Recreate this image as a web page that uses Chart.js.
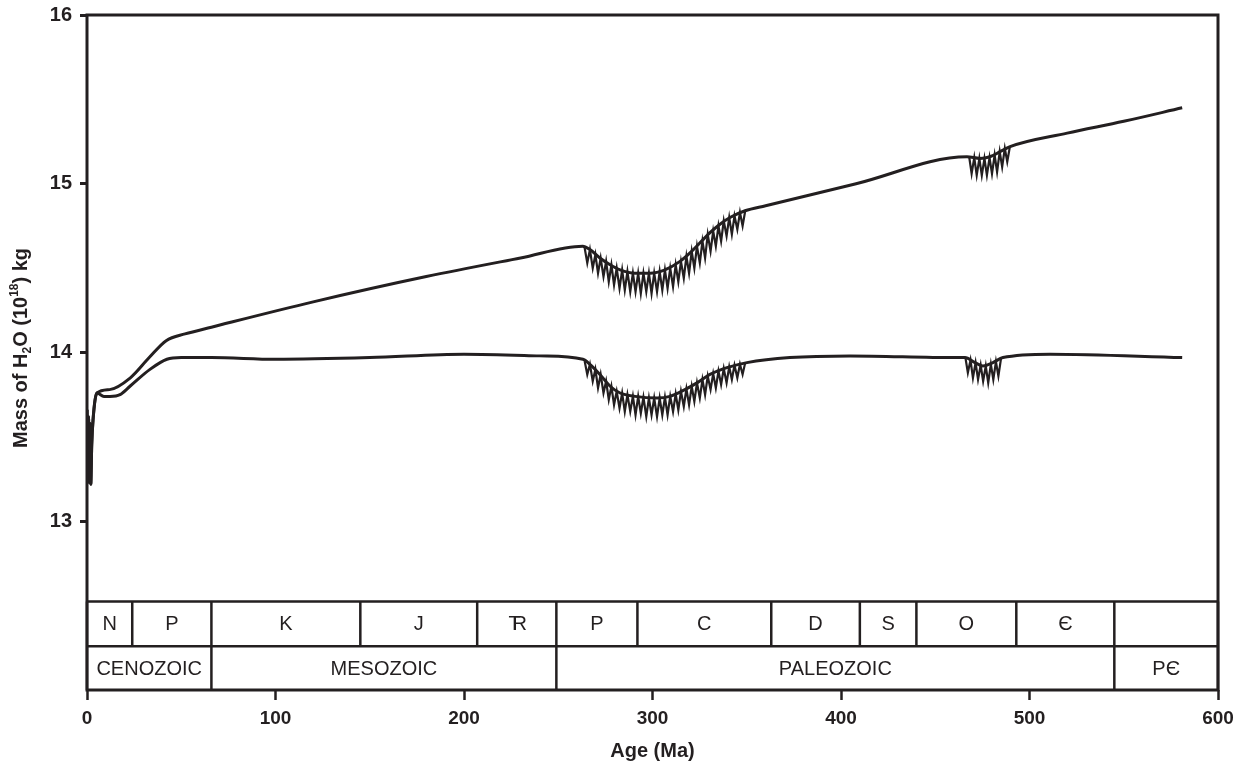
<!DOCTYPE html>
<html>
<head>
<meta charset="utf-8">
<title>Mass of H2O through time</title>
<script src="https://cdn.jsdelivr.net/npm/chart.js@4.4.1/dist/chart.umd.min.js"></script>
<style>
  html, body { margin: 0; padding: 0; background: #fff; }
  #wrap { width: 1243px; height: 764px; }
</style>
</head>
<body>
<div id="wrap"><canvas id="chart" width="1243" height="764"></canvas></div>
<script>
// ages in Ma, masses in 10^18 kg
const upperAges = [0, 0.4, 0.8, 1.2, 1.6, 2.0, 2.5, 3.2, 5.3, 12, 23, 33, 42, 52, 66, 120, 180, 230, 263,
  266.8, 272.1, 277.5, 282.8, 290.7, 298.7, 306.6, 314.6, 319.9, 325.2, 330.5, 335.8, 341.1, 349.1,
  360, 408, 466.8, 473.7, 479, 484.4, 489.7, 520, 550, 581];
const upperMass = [13.66, 13.25, 13.62, 13.23, 13.58, 13.22, 13.45, 13.6, 13.76, 13.78, 13.85, 13.97, 14.07, 14.11, 14.15, 14.30, 14.45, 14.56, 14.63,
  14.61, 14.56, 14.52, 14.49, 14.47, 14.47, 14.49, 14.54, 14.59, 14.65, 14.71, 14.76, 14.80, 14.84,
  14.87, 15.00, 15.16, 15.15, 15.16, 15.19, 15.22, 15.30, 15.37, 15.45];

const lowerAges = [0, 0.4, 0.8, 1.2, 1.6, 2.0, 2.5, 3.2, 5.3, 9, 12.2, 17.5, 22.8, 33.4, 42.4, 50, 66, 100, 150, 200, 240,
  263.1, 266.8, 272.1, 277.5, 282.8, 290.7, 302.4, 309.3, 317.2, 323.6, 330.5, 339.5, 350.1,
  372.9, 404.8, 460.5, 465.8, 471.1, 475.3, 480.6, 485.9, 510.9, 581];
const lowerMass = [13.66, 13.25, 13.62, 13.23, 13.58, 13.22, 13.45, 13.6, 13.76, 13.74, 13.74, 13.75, 13.80, 13.90, 13.96, 13.97, 13.97, 13.96, 13.97, 13.99, 13.98,
  13.96, 13.93, 13.87, 13.80, 13.76, 13.74, 13.73, 13.74, 13.78, 13.82, 13.87, 13.91, 13.94,
  13.97, 13.98, 13.97, 13.97, 13.94, 13.92, 13.94, 13.97, 13.99, 13.97];

// Permo-Carboniferous glacial cycles (alternating crest / trough)
const permoCarbAges = [264, 265.4, 266.8, 268.3, 269.7, 271.1, 272.5, 274.0, 275.4, 276.8, 278.2, 279.6,
  281.0, 282.5, 283.9, 285.3, 286.7, 288.2, 289.6, 291.0, 292.4, 293.8, 295.2, 296.7, 298.1, 299.5,
  300.9, 302.4, 303.8, 305.2, 306.6, 308.0, 309.4, 310.9, 312.3, 313.7, 315.1, 316.6, 318.0, 319.4,
  320.8, 322.2, 323.6, 325.1, 326.5, 327.9, 329.3, 330.8, 332.2, 333.6, 335.0, 336.4, 337.8, 339.3,
  340.7, 342.1, 343.5, 345.0, 346.4, 347.8, 349.2];
const permoCarbUpper = [14.62, 14.53, 14.61, 14.50, 14.58, 14.47, 14.56, 14.45, 14.54, 14.42, 14.52, 14.40,
  14.50, 14.38, 14.49, 14.37, 14.48, 14.36, 14.47, 14.36, 14.47, 14.35, 14.47, 14.36, 14.47, 14.35,
  14.47, 14.36, 14.48, 14.37, 14.49, 14.38, 14.50, 14.39, 14.52, 14.42, 14.54, 14.44, 14.57, 14.47,
  14.60, 14.50, 14.63, 14.53, 14.66, 14.56, 14.70, 14.60, 14.72, 14.63, 14.75, 14.66, 14.78, 14.69,
  14.80, 14.70, 14.81, 14.73, 14.83, 14.75, 14.84];
const permoCarbLower = [13.95, 13.87, 13.93, 13.83, 13.90, 13.79, 13.87, 13.76, 13.83, 13.72, 13.80, 13.69,
  13.77, 13.67, 13.76, 13.65, 13.75, 13.65, 13.74, 13.63, 13.74, 13.64, 13.735, 13.62, 13.73, 13.63,
  13.73, 13.62, 13.73, 13.63, 13.735, 13.63, 13.74, 13.65, 13.755, 13.66, 13.77, 13.68, 13.785, 13.69,
  13.80, 13.71, 13.82, 13.73, 13.84, 13.75, 13.86, 13.78, 13.875, 13.79, 13.89, 13.81, 13.905, 13.82,
  13.915, 13.84, 13.925, 13.85, 13.93, 13.87, 13.94];

// Ordovician glacial cycles
const ordUpperAges = [468.0, 469.3, 470.7, 472.0, 473.4, 474.7, 476.1, 477.4, 478.8, 480.1, 481.5, 482.8, 484.2, 485.5, 486.9, 488.2, 489.6];
const ordUpperMass = [15.16, 15.06, 15.155, 15.05, 15.15, 15.05, 15.15, 15.05, 15.155, 15.06, 15.17, 15.07, 15.19, 15.10, 15.21, 15.13, 15.22];
const ordLowerAges = [466.0, 467.3, 468.7, 470.0, 471.4, 472.7, 474.1, 475.4, 476.8, 478.1, 479.5, 480.8, 482.2, 483.5, 484.9];
const ordLowerMass = [13.97, 13.88, 13.955, 13.85, 13.94, 13.84, 13.925, 13.83, 13.92, 13.82, 13.93, 13.84, 13.945, 13.86, 13.965];

// geologic time scale
const periodBounds = [0, 24, 66, 145, 207, 249, 292, 363, 410, 440, 493, 545, 600];
const periodLabels = ["N", "P", "K", "J", "TR", "P", "C", "D", "S", "O", "\u0404", ""];
const eraBounds = [0, 66, 249, 545, 600];
const eraLabels = ["CENOZOIC", "MESOZOIC", "PALEOZOIC", "P\u0404"];

const xTickValues = [0, 100, 200, 300, 400, 500, 600];
const yTickValues = [13, 14, 15, 16];

const INK = "#231f20";

function points(ages, vals) {
    return ages.map((a, i) => ({ x: a, y: vals[i] }));
}

function curve(ages, vals) {
    return {
        data: points(ages, vals),
        borderColor: INK,
        borderWidth: 3,
        pointRadius: 0,
        cubicInterpolationMode: "monotone",
        borderJoinStyle: "round"
    };
}

function cycles(ages, vals) {
    return {
        data: points(ages, vals),
        borderColor: INK,
        borderWidth: 2.2,
        pointRadius: 0,
        tension: 0
    };
}

function drawYTitle(ctx) {
    // H2O with subscript, 10^18 with superscript
    let parts = [["Mass of H", 0], ["2", 1], ["O (10", 0], ["18", -1], [") kg", 0]];
    ctx.save();
    ctx.translate(27, 448);
    ctx.rotate(-Math.PI / 2);
    ctx.fillStyle = INK;
    ctx.textBaseline = "alphabetic";
    ctx.textAlign = "left";
    let x = 0;
    for (let [text, shift] of parts) {
        ctx.font = shift ? "bold 12px 'Liberation Sans'" : "bold 20px 'Liberation Sans'";
        let dy = shift === 1 ? 4 : (shift === -1 ? -9 : 0);
        ctx.fillText(text, x, dy);
        x += ctx.measureText(text).width;
    }
    ctx.restore();
}

function drawLabel(ctx, label, cx, cy) {
    if (label === "TR") {
        // Triassic symbol: T laid over the stem of R
        let w = ctx.measureText("R").width;
        ctx.fillText("R", cx + 3, cy);
        ctx.fillText("T", cx + 3 - w / 2 + 2, cy);
    } else {
        ctx.fillText(label, cx, cy);
    }
}

const timeScalePlugin = {
    id: "timeScale",
    afterDraw(chart) {
        let ctx = chart.ctx;
        let xs = chart.scales.x;
        let ys = chart.scales.y;
        let area = chart.chartArea;
        let rowTop = ys.getPixelForValue(12.525);
        let rowMid = ys.getPixelForValue(12.26);
        let rowBot = ys.getPixelForValue(12);

        ctx.save();
        ctx.strokeStyle = INK;
        ctx.lineWidth = 2.5;
        ctx.beginPath();
        ctx.moveTo(area.left, rowTop);
        ctx.lineTo(area.right, rowTop);
        ctx.moveTo(area.left, rowMid);
        ctx.lineTo(area.right, rowMid);
        for (let b of periodBounds) {
            let px = xs.getPixelForValue(b);
            ctx.moveTo(px, rowTop);
            ctx.lineTo(px, rowMid);
        }
        for (let b of eraBounds) {
            let px = xs.getPixelForValue(b);
            ctx.moveTo(px, rowMid);
            ctx.lineTo(px, rowBot);
        }
        ctx.stroke();

        ctx.fillStyle = INK;
        ctx.font = "20px 'Liberation Sans'";
        ctx.textAlign = "center";
        ctx.textBaseline = "middle";
        for (let i = 0; i < periodLabels.length; i++) {
            let cx = (xs.getPixelForValue(periodBounds[i]) + xs.getPixelForValue(periodBounds[i + 1])) / 2;
            drawLabel(ctx, periodLabels[i], cx, (rowTop + rowMid) / 2 + 1);
        }
        for (let i = 0; i < eraLabels.length; i++) {
            let cx = (xs.getPixelForValue(eraBounds[i]) + xs.getPixelForValue(eraBounds[i + 1])) / 2;
            ctx.fillText(eraLabels[i], cx, (rowMid + rowBot) / 2 + 1);
        }

        // frame round the plot
        ctx.lineWidth = 3;
        ctx.strokeRect(area.left, area.top, area.right - area.left, area.bottom - area.top);
        ctx.restore();

        drawYTitle(ctx);
    }
};

function makeChart() {

    let canvas = document.getElementById("chart");
    new Chart(canvas.getContext("2d"), {
        type: "line",
        data: {
            datasets: [
                curve(upperAges, upperMass),
                curve(lowerAges, lowerMass),
                cycles(permoCarbAges, permoCarbUpper),
                cycles(permoCarbAges, permoCarbLower),
                cycles(ordUpperAges, ordUpperMass),
                cycles(ordLowerAges, ordLowerMass)
            ]
        },
        options: {
            responsive: false,
            animation: false,
            devicePixelRatio: 1,
            layout: { padding: { top: 15, right: 25, left: 0, bottom: 0 } },
            plugins: {
                legend: { display: false },
                tooltip: { enabled: false }
            },
            scales: {
                x: {
                    type: "linear",
                    min: 0,
                    max: 600,
                    afterBuildTicks: (axis) => { axis.ticks = xTickValues.map(v => ({ value: v })); },
                    afterFit: (axis) => { axis.height = 74; axis.paddingLeft = 0; axis.paddingRight = 0; },
                    border: { display: false },
                    grid: { drawOnChartArea: false, drawTicks: true, tickLength: 10, tickWidth: 2.5, tickColor: INK },
                    ticks: {
                        color: INK,
                        padding: 7,
                        maxRotation: 0,
                        font: { family: "'Liberation Sans'", size: 19, weight: "bold" }
                    },
                    title: {
                        display: true,
                        text: "Age (Ma)",
                        color: INK,
                        padding: { top: 0, bottom: 1 },
                        font: { family: "'Liberation Sans'", size: 20, weight: "bold" }
                    }
                },
                y: {
                    type: "linear",
                    min: 12,
                    max: 16,
                    afterBuildTicks: (axis) => { axis.ticks = yTickValues.map(v => ({ value: v })); },
                    afterFit: (axis) => { axis.width = 87; axis.paddingTop = 0; axis.paddingBottom = 0; },
                    border: { display: false },
                    grid: { drawOnChartArea: false, drawTicks: true, tickLength: 7, tickWidth: 3, tickColor: INK },
                    ticks: {
                        color: INK,
                        padding: 8,
                        font: { family: "'Liberation Sans'", size: 20, weight: "bold" }
                    }
                }
            }
        },
        plugins: [timeScalePlugin]
    });
}
makeChart();
</script>
</body>
</html>
